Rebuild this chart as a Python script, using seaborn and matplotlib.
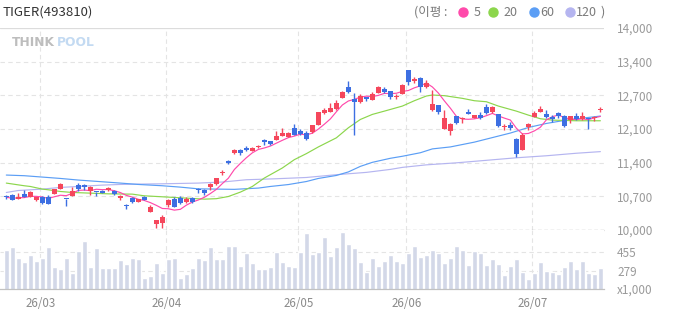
import numpy as np
import pandas as pd
import matplotlib
matplotlib.use("Agg")
import matplotlib.pyplot as plt
from matplotlib.lines import Line2D
import seaborn as sns

sns.set_style("white")
plt.rcParams["font.family"] = ["Noto Sans CJK KR", "DejaVu Sans"]
plt.rcParams["axes.unicode_minus"] = False

# daily candles (index 0..99)
opens = [10660, 10697, 10623, 10710, 10663, 10603, 10651, 10651, 10722, 10816,
         10620, 10677, 10896, 10882, 10763, 10760, 10776, 10783, 10776, 10637,
         10480, 10643, 10563, 10663, 10364, 10119, 10133, 10491, 10611, 10643,
         10563, 10631, 10800, 10796, 10842, 10909, 11125, 11360, 11519, 11592,
         11628, 11572, 11640, 11777, 11758, 11791, 11871, 11844, 12010, 11964,
         11930, 11937, 12076, 12322, 12342, 12388, 12613, 12826, 12587, 12533,
         12610, 12573, 12713, 12786, 12746, 12630, 12693, 13164, 12945, 13005,
         12826, 12374, 12467, 12004, 11970, 12249, 12205, 12335, 12223, 12269,
         12428, 12328, 12289, 12045, 12070, 11811, 11592, 12030, 12243, 12342,
         12289, 12243, 12309, 12263, 12169, 12249, 12189, 12195, 12218, 12383]
highs = [10690, 10710, 10742, 10790, 10770, 10660, 10677, 10690, 10815, 10935,
         10620, 10856, 10930, 10920, 10870, 10760, 10790, 10856, 10790, 10690,
         10520, 10650, 10620, 10670, 10490, 10205, 10300, 10611, 10663, 10677,
         10650, 10660, 10840, 10805, 10925, 11030, 11180, 11380, 11600, 11600,
         11660, 11650, 11680, 11810, 11770, 11960, 12010, 11935, 12090, 12000,
         11970, 12080, 12335, 12420, 12520, 12580, 12750, 12945, 12720, 12693,
         12640, 12733, 12850, 12830, 12755, 12690, 12890, 13175, 13030, 13020,
         12975, 12766, 12480, 12370, 12110, 12260, 12240, 12388, 12280, 12330,
         12500, 12450, 12295, 12103, 12130, 11820, 11930, 12120, 12360, 12460,
         12375, 12280, 12340, 12270, 12260, 12320, 12340, 12200, 12260, 12430]
lows = [10610, 10590, 10610, 10645, 10655, 10577, 10520, 10515, 10715, 10810,
        10484, 10670, 10780, 10790, 10690, 10680, 10725, 10775, 10690, 10600,
        10410, 10530, 10550, 10590, 10355, 10046, 10046, 10464, 10455, 10520,
        10540, 10540, 10730, 10700, 10790, 10900, 11085, 11300, 11510, 11480,
        11560, 11560, 11630, 11690, 11690, 11785, 11860, 11835, 11880, 11880,
        11780, 11930, 12070, 12290, 12335, 12380, 12605, 12710, 11877, 12520,
        12560, 12565, 12705, 12706, 12587, 12600, 12685, 12870, 12910, 12735,
        12815, 12365, 12290, 11995, 11877, 12100, 12123, 12290, 12210, 12190,
        12300, 12315, 12040, 11984, 11990, 11453, 11585, 11990, 12235, 12335,
        12225, 12140, 12220, 12040, 12110, 12180, 12180, 11996, 12160, 12340]
closes = [10650, 10603, 10663, 10651, 10762, 10651, 10543, 10523, 10810, 10915,
          10611, 10776, 10810, 10842, 10856, 10750, 10736, 10830, 10716, 10677,
          10471, 10563, 10611, 10603, 10464, 10199, 10253, 10587, 10464, 10543,
          10611, 10563, 10790, 10730, 10915, 11021, 11140, 11320, 11592, 11519,
          11582, 11628, 11655, 11738, 11705, 11871, 11911, 11921, 11891, 11897,
          11805, 12070, 12328, 12374, 12421, 12513, 12740, 12726, 12533, 12653,
          12602, 12700, 12840, 12733, 12627, 12640, 12879, 12931, 12999, 12826,
          12919, 12487, 12328, 12223, 12103, 12116, 12216, 12302, 12269, 12216,
          12315, 12441, 12050, 12055, 12024, 11506, 11877, 12097, 12309, 12388,
          12236, 12189, 12263, 12050, 12249, 12189, 12249, 12189, 12228, 12393]
volume = [467, 494, 397, 362, 423, 370, 397, 494, 318, 300,
          397, 265, 458, 546, 318, 485, 309, 309, 309, 379,
          344, 397, 388, 221, 238, 353, 265, 388, 397, 221,
          256, 309, 397, 379, 494, 388, 388, 502, 502, 326,
          441, 353, 300, 300, 318, 450, 362, 326, 318, 450,
          617, 432, 450, 582, 414, 494, 626, 520, 485, 362,
          274, 397, 326, 370, 423, 370, 353, 441, 502, 406,
          423, 467, 441, 353, 397, 502, 467, 335, 458, 441,
          335, 388, 344, 247, 326, 388, 274, 212, 265, 362,
          282, 274, 256, 318, 370, 300, 370, 265, 256, 309]

# moving averages
ma20_idx = [0, 3, 4, 6, 7, 9, 11, 14, 17, 21, 23, 27, 30, 33, 35, 37, 39, 41, 43, 46,
            48, 50, 52, 55, 57, 59, 61, 63, 66, 68, 70, 71, 73, 76, 78, 80, 82, 85, 87, 89,
            91, 95, 99]
ma20_val = [10929, 10876, 10862, 10810, 10796, 10763, 10743, 10730, 10716, 10710,
            10677, 10651, 10631, 10611, 10620, 10663, 10750, 10862, 11029, 11228,
            11393, 11512, 11645, 11825, 12024, 12189, 12289, 12354, 12454, 12560,
            12653, 12673, 12660, 12607, 12560, 12540, 12454, 12354, 12275, 12203,
            12176, 12163, 12163]
ma60_idx = [0, 3, 6, 9, 12, 16, 19, 22, 26, 29, 32, 38, 42, 44, 47, 50, 52, 55, 57, 59,
            61, 64, 66, 69, 71, 74, 78, 81, 84, 87, 90, 93, 96, 99]
ma60_val = [11088, 11075, 11048, 11021, 10989, 10955, 10929, 10902, 10876, 10849,
            10815, 10805, 10830, 10862, 10900, 10960, 11021, 11080, 11150, 11260,
            11340, 11420, 11460, 11530, 11606, 11645, 11740, 11830, 11920, 12030,
            12110, 12170, 12215, 12256]
ma120_idx = [0, 2, 6, 9, 12, 16, 19, 22, 26, 29, 32, 36, 40, 45, 50, 55, 60, 64, 66, 70,
             75, 80, 85, 90, 95, 99]
ma120_val = [10743, 10782, 10810, 10843, 10862, 10889, 10902, 10909, 10915, 10922,
             10929, 10950, 10995, 11015, 11040, 11095, 11141, 11200, 11240, 11290,
             11330, 11380, 11430, 11470, 11520, 11552]

month_start = [6, 27, 49, 67, 88]
month_labels = ["26/03", "26/04", "26/05", "26/06", "26/07"]
price_ticks = [10000, 10666.7, 11333.3, 12000, 12666.7, 13333.3, 14000]
price_labels = ["10,000", "10,700", "11,400", "12,100", "12,700", "13,400", "14,000"]
vol_ticks = [124, 279, 455]
vol_labels = ["x1,000", "279", "455"]

df = pd.DataFrame({"o": opens, "h": highs, "l": lows, "c": closes, "v": volume})
df["i"] = np.arange(len(df))
df["ma5"] = df["c"].rolling(5, min_periods=1).mean()

UP, DOWN = "#f5475c", "#3d6fe2"
GRID = "#e4e4e4"
xlim = (-1.05, 99.6)

fig = plt.figure(figsize=(6.73, 3.15), dpi=100)
ax = fig.add_axes([0, 85 / 315, 604 / 673, 202 / 315])
axv = fig.add_axes([0, 26 / 315, 604 / 673, 59 / 315])

# grid
for t in price_ticks[1:-1]:
    ax.axhline(t, color=GRID, ls=(0, (4, 3)), lw=0.8, zorder=0)
ax.axhline(14000, color="#dcdcdc", lw=0.9, zorder=0)
ax.axhline(10000, color="#9a9a9a", ls=(0, (3, 2)), lw=0.9, zorder=5, clip_on=False)
for m in month_start:
    ax.axvline(m - 0.35, color=GRID, ls=(0, (4, 3)), lw=0.8, zorder=0)
    axv.axvline(m - 0.35, color=GRID, ls=(0, (4, 3)), lw=0.8, zorder=0)

# moving averages
sns.lineplot(x=ma120_idx, y=ma120_val, ax=ax, color="#b5b5f0", lw=0.85, zorder=2)
sns.lineplot(x=ma60_idx, y=ma60_val, ax=ax, color="#5b9ef5", lw=0.85, zorder=2)
sns.lineplot(x=ma20_idx, y=ma20_val, ax=ax, color="#8cd64c", lw=0.85, zorder=2)
sns.lineplot(data=df, x="i", y="ma5", ax=ax, color="#ff4aab", lw=0.85, zorder=2)

# candles
colors = np.where(df["c"] > df["o"], UP, DOWN)
ax.vlines(df["i"], df["l"], df["h"], colors=colors, lw=1.0, zorder=3)
body_lo = np.minimum(df["o"], df["c"])
body_h = np.maximum((df["c"] - df["o"]).abs(), 22)
ax.bar(df["i"], body_h, bottom=body_lo, width=0.8, color=colors, zorder=4, linewidth=0)

ax.set_xlim(*xlim)
ax.set_ylim(10000, 14000)
ax.yaxis.tick_right()
ax.set_yticks(price_ticks)
ax.set_yticklabels(price_labels)
ax.tick_params(axis="y", length=0, pad=9.4, labelsize=8.5, labelcolor="#9a9a9a")
ax.set_xticks([])
ax.set_xlabel("")
ax.set_ylabel("")
for s in ax.spines.values():
    s.set_visible(False)

# volume
for t in vol_ticks[1:]:
    axv.axhline(t, color=GRID, ls=(0, (4, 3)), lw=0.8, zorder=0)
sns.barplot(x=df["i"], y=df["v"], ax=axv, color="#d3d8e8", saturation=1,
            width=0.78, errorbar=None, zorder=2)
axv.set_xlim(*xlim)
axv.set_ylim(vol_ticks[0], 646)
axv.yaxis.tick_right()
axv.set_yticks(vol_ticks)
axv.set_yticklabels(vol_labels)
axv.tick_params(axis="y", length=0, pad=9.4, labelsize=8.5, labelcolor="#9a9a9a")
axv.set_xticks([m - 0.35 for m in month_start])
axv.set_xticklabels(month_labels)
axv.tick_params(axis="x", length=0, pad=5.5, labelsize=8.3, labelcolor="#8a8a8a")
axv.set_xlabel("")
axv.set_ylabel("")
for s in axv.spines.values():
    s.set_visible(False)
axv.spines["bottom"].set_visible(True)
axv.spines["bottom"].set_color("#c2c2c2")
axv.spines["bottom"].set_linewidth(0.9)

# title, watermark, legend
H = 315
fig.text(3 / 673, 1 - 12 / H, "TIGER(493810)", fontsize=9.5, color="#333333", va="center")
fig.text(12 / 673, 1 - 43 / H, "THINK", fontsize=8.8, color="#bdbdbd", weight="bold",
         va="center", family="DejaVu Sans")
fig.text(57 / 673, 1 - 43 / H, "POOL", fontsize=8.8, color="#c3daf2", weight="bold",
         va="center", family="DejaVu Sans")

leg_txt = dict(fontsize=9, color="#7a7a7a", va="center")
fig.text(414 / 673, 1 - 12 / H, "(이평 :", **leg_txt)
ma_names = ["5", "20", "60", "120"]
ma_colors = ["#ff4aab", "#8cd64c", "#5b9ef5", "#b5b5f0"]
dot_x = [463, 493, 534, 570]
txt_x = [476.7, 510.7, 547.7, 586.7]
for name, c, dx, tx in zip(ma_names, ma_colors, dot_x, txt_x):
    fig.add_artist(Line2D([dx / 673], [1 - 12 / H], transform=fig.transFigure,
                          marker="o", ms=6.5, color=c, ls=""))
    fig.text(tx / 673, 1 - 12 / H, name, ha="center", **leg_txt)
fig.text(603 / 673, 1 - 12 / H, ")", ha="center", **leg_txt)

fig.savefig("out.png", dpi=100)
